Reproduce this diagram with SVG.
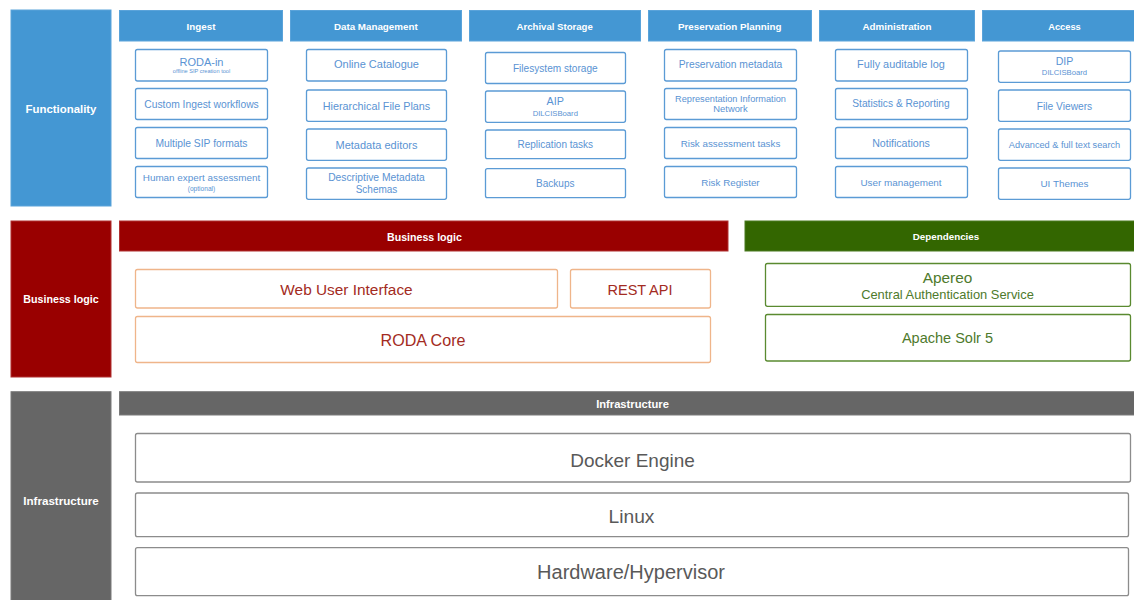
<svg xmlns="http://www.w3.org/2000/svg" width="1134" height="600" viewBox="0 0 1134 600">
<style>
text{font-family:"Liberation Sans",Arial,sans-serif;text-anchor:middle}
.blue{fill:#4497d3;stroke:#5aa3da;stroke-width:1}
.red{fill:#990000;stroke:#b03030;stroke-width:1}
.green{fill:#336600;stroke:#4a7a20;stroke-width:1}
.gray{fill:#666666;stroke:#7a7a7a;stroke-width:1}
.lbl{fill:#ffffff;font-weight:bold}
.item{fill:#ffffff;stroke:#5b9bd5;stroke-width:1.3}
.it{fill:#5a93d3}
.bl{fill:#ffffff;stroke:#efb58a;stroke-width:1.3}
.bt{fill:#a32b22}
.dp{fill:#ffffff;stroke:#5a8a30;stroke-width:1.3}
.dt{fill:#4e7a2c}
.inf{fill:#ffffff;stroke:#8c8c8c;stroke-width:1.3}
.itx{fill:#595959}
</style>
<g id="layer-functionality">
<rect class="blue" x="11" y="10" width="100" height="196"/>
<text class="lbl" x="61" y="112.5" font-size="11.4">Functionality</text>
</g>
<g id="col-ingest">
<rect class="blue" x="119.5" y="10.5" width="163" height="30.5"/>
<text class="lbl" x="201" y="29.5" font-size="9.8">Ingest</text>
<g id="n-roda-in"><rect class="item" x="135.5" y="49.5" width="132" height="31.5" rx="2"/><text class="it" x="201.5" y="65.7" font-size="11">RODA-in</text><text class="it" x="201.5" y="73.3" font-size="5.6">offline SIP creation tool</text></g>
<g id="n-custom-ingest"><rect class="item" x="135.5" y="88.5" width="132" height="31" rx="2"/><text class="it" x="201.5" y="108.3" font-size="10.3">Custom Ingest workflows</text></g>
<g id="n-multiple-sip"><rect class="item" x="135.5" y="127.5" width="132" height="31" rx="2"/><text class="it" x="201.5" y="146.7" font-size="10.3">Multiple SIP formats</text></g>
<g id="n-human-expert"><rect class="item" x="135.5" y="166.5" width="132" height="31" rx="2"/><text class="it" x="201.5" y="180.7" font-size="9.9">Human expert assessment</text><text class="it" x="201.5" y="190.7" font-size="6.6">(optional)</text></g>
</g>
<g id="col-data-management">
<rect class="blue" x="290.5" y="10.5" width="171" height="30.5"/>
<text class="lbl" x="375.8" y="29.5" font-size="9.8">Data Management</text>
<g id="n-online-catalogue"><rect class="item" x="306.5" y="49.5" width="140" height="31.5" rx="2"/><text class="it" x="376.5" y="68.3" font-size="11">Online Catalogue</text></g>
<g id="n-hierarchical"><rect class="item" x="306.5" y="90" width="140" height="31.3" rx="2"/><text class="it" x="376.5" y="110" font-size="10.8">Hierarchical File Plans</text></g>
<g id="n-metadata-editors"><rect class="item" x="306.5" y="129" width="140" height="31.3" rx="2"/><text class="it" x="376.5" y="148.7" font-size="11">Metadata editors</text></g>
<g id="n-descriptive"><rect class="item" x="306.5" y="168" width="140" height="31.3" rx="2"/><text class="it" x="376.5" y="181" font-size="10.3">Descriptive Metadata</text><text class="it" x="376.5" y="193.3" font-size="10">Schemas</text></g>
</g>
<g id="col-archival-storage">
<rect class="blue" x="469.5" y="10.5" width="171" height="30.5"/>
<text class="lbl" x="554.7" y="29.5" font-size="9.6">Archival Storage</text>
<g id="n-filesystem"><rect class="item" x="485.5" y="52.5" width="140" height="31" rx="2"/><text class="it" x="555.3" y="72" font-size="10.1">Filesystem storage</text></g>
<g id="n-aip"><rect class="item" x="485.5" y="91" width="140" height="31.3" rx="2"/><text class="it" x="555.3" y="105" font-size="10.8">AIP</text><text class="it" x="555.3" y="115.7" font-size="7.7">DILCISBoard</text></g>
<g id="n-replication"><rect class="item" x="485.5" y="130" width="140" height="28.7" rx="2"/><text class="it" x="555.3" y="147.7" font-size="10">Replication tasks</text></g>
<g id="n-backups"><rect class="item" x="485.5" y="168.7" width="140" height="29" rx="2"/><text class="it" x="555.3" y="186.7" font-size="10">Backups</text></g>
</g>
<g id="col-preservation-planning">
<rect class="blue" x="648.5" y="10.5" width="163" height="30.5"/>
<text class="lbl" x="729.7" y="29.5" font-size="9.8">Preservation Planning</text>
<g id="n-pres-metadata"><rect class="item" x="664.5" y="49.5" width="132" height="31.5" rx="2"/><text class="it" x="730.5" y="68.3" font-size="10.3">Preservation metadata</text></g>
<g id="n-rin"><rect class="item" x="664.5" y="88.5" width="132" height="31" rx="2"/><text class="it" x="730.5" y="101.7" font-size="9.2">Representation Information</text><text class="it" x="730.5" y="112.3" font-size="9.4">Network</text></g>
<g id="n-risk-assessment"><rect class="item" x="664.5" y="127.5" width="132" height="31" rx="2"/><text class="it" x="730.5" y="146.7" font-size="9.8">Risk assessment tasks</text></g>
<g id="n-risk-register"><rect class="item" x="664.5" y="166.5" width="132" height="31" rx="2"/><text class="it" x="730.5" y="185.7" font-size="9.8">Risk Register</text></g>
</g>
<g id="col-administration">
<rect class="blue" x="819.5" y="10.5" width="155" height="30.5"/>
<text class="lbl" x="897" y="29.5" font-size="9.8">Administration</text>
<g id="n-auditable-log"><rect class="item" x="835.5" y="49.5" width="132" height="31.5" rx="2"/><text class="it" x="901" y="68.3" font-size="10.9">Fully auditable log</text></g>
<g id="n-statistics"><rect class="item" x="835.5" y="88.5" width="132" height="31" rx="2"/><text class="it" x="901" y="107.3" font-size="10.2">Statistics &amp; Reporting</text></g>
<g id="n-notifications"><rect class="item" x="835.5" y="127.5" width="132" height="31" rx="2"/><text class="it" x="901" y="146.7" font-size="10.6">Notifications</text></g>
<g id="n-user-management"><rect class="item" x="835.5" y="166.5" width="132" height="31" rx="2"/><text class="it" x="901" y="185.7" font-size="9.9">User management</text></g>
</g>
<g id="col-access">
<rect class="blue" x="982.5" y="10.5" width="160" height="30.5"/>
<text class="lbl" x="1064.5" y="29.5" font-size="9.3">Access</text>
<g id="n-dip"><rect class="item" x="998.5" y="51" width="132" height="31.3" rx="2"/><text class="it" x="1064.5" y="65.3" font-size="10.6">DIP</text><text class="it" x="1064.5" y="75.3" font-size="7.7">DILCISBoard</text></g>
<g id="n-file-viewers"><rect class="item" x="998.5" y="90" width="132" height="31.3" rx="2"/><text class="it" x="1064.5" y="110" font-size="10.2">File Viewers</text></g>
<g id="n-advanced-search"><rect class="item" x="998.5" y="129" width="132" height="31.3" rx="2"/><text class="it" x="1064.5" y="147.7" font-size="9.2">Advanced &amp; full text search</text></g>
<g id="n-ui-themes"><rect class="item" x="998.5" y="168" width="132" height="31.3" rx="2"/><text class="it" x="1064.5" y="186.7" font-size="9.9">UI Themes</text></g>
</g>
<g id="layer-business-logic">
<rect class="red" x="11" y="221" width="100" height="156"/>
<text class="lbl" x="61" y="303.3" font-size="10.7">Business logic</text>
</g>
<g id="bar-business-logic">
<rect class="red" x="119.5" y="221" width="608.5" height="30"/>
<text class="lbl" x="424.5" y="240.7" font-size="10.6">Business logic</text>
<g id="n-web-ui"><rect class="bl" x="135.5" y="269.5" width="422" height="38.5" rx="2"/><text class="bt" x="346.5" y="295" font-size="15.4">Web User Interface</text></g>
<g id="n-rest-api"><rect class="bl" x="570.5" y="269.5" width="140" height="38.5" rx="2"/><text class="bt" x="640" y="295" font-size="14.5">REST API</text></g>
<g id="n-roda-core"><rect class="bl" x="135.5" y="316.5" width="575" height="46" rx="2"/><text class="bt" x="423" y="346" font-size="16.1">RODA Core</text></g>
</g>
<g id="bar-dependencies">
<rect class="green" x="745" y="221" width="400" height="30"/>
<text class="lbl" x="946" y="240.3" font-size="9.8">Dependencies</text>
<g id="n-apereo"><rect class="dp" x="765.5" y="263.5" width="365" height="42.8" rx="2"/><text class="dt" x="947.5" y="283.3" font-size="15.4">Apereo</text><text class="dt" x="947.5" y="298.7" font-size="12.9">Central Authentication Service</text></g>
<g id="n-solr"><rect class="dp" x="765.5" y="314.5" width="365" height="46.5" rx="2"/><text class="dt" x="947.5" y="343.3" font-size="14.5">Apache Solr 5</text></g>
</g>
<g id="layer-infrastructure">
<rect class="gray" x="11" y="391.7" width="100" height="215"/>
<text class="lbl" x="61" y="505" font-size="11.6">Infrastructure</text>
</g>
<g id="bar-infrastructure">
<rect class="gray" x="119.5" y="391.7" width="1030" height="23.3"/>
<text class="lbl" x="632.5" y="407.7" font-size="11.2">Infrastructure</text>
<g id="n-docker"><rect class="inf" x="135.5" y="433.5" width="995" height="48.5" rx="2"/><text class="itx" x="632.5" y="466.7" font-size="19">Docker Engine</text></g>
<g id="n-linux"><rect class="inf" x="135.5" y="493" width="993" height="43.7" rx="2"/><text class="itx" x="631.5" y="522.7" font-size="19.2">Linux</text></g>
<g id="n-hardware"><rect class="inf" x="135.5" y="547.7" width="993" height="48" rx="2"/><text class="itx" x="631" y="579.3" font-size="20">Hardware/Hypervisor</text></g>
</g>
<g id="connectors"/>
</svg>
